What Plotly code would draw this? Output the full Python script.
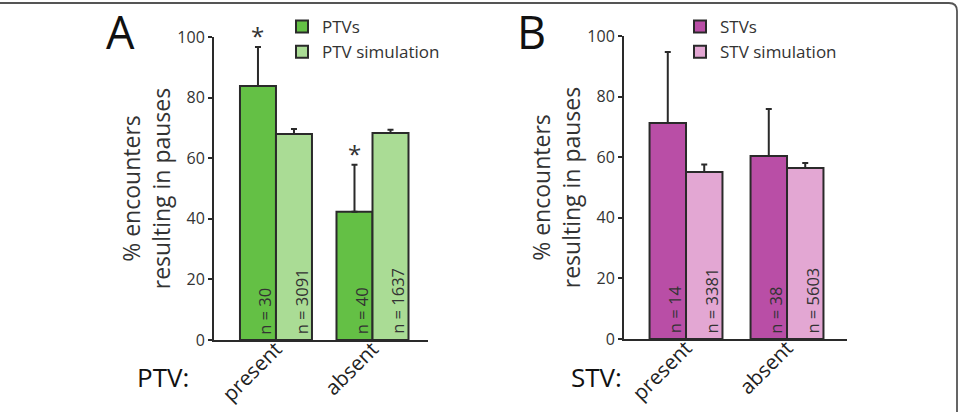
import plotly.graph_objects as go

W, H = 961, 412

categories = ["present", "absent"]

# Panel A
ptv_vals = [83.8, 42.3]
ptv_err = [12.9, 15.5]
ptv_n = [30, 40]
ptv_sim_vals = [68.0, 68.3]
ptv_sim_err = [1.6, 1.1]
ptv_sim_n = [3091, 1637]
ptv_sig = [True, True]

# Panel B
stv_vals = [71.3, 60.4]
stv_err = [23.4, 15.5]
stv_n = [14, 38]
stv_sim_vals = [55.1, 56.4]
stv_sim_err = [2.5, 1.7]
stv_sim_n = [3381, 5603]

xpos = [0, 1]

FONT = "Open Sans"
TXT = "#333333"
EDGE = "#2a2a2a"

def px_x(p):
    return p / W

def px_y(p):
    return 1 - p / H

fig = go.Figure()

def add_pair(vals, err, sim_vals, sim_err, names, colors, bw, xa, ya, leg):
    fig.add_trace(go.Bar(
        x=xpos, y=vals, width=bw, offset=-bw, name=names[0],
        marker=dict(color=colors[0], line=dict(color=EDGE, width=2)),
        error_y=dict(type="data", array=err, arrayminus=[0] * len(err), symmetric=False,
                     color=EDGE, thickness=2, width=3),
        xaxis=xa, yaxis=ya, legend=leg))
    fig.add_trace(go.Bar(
        x=xpos, y=sim_vals, width=bw, offset=0, name=names[1],
        marker=dict(color=colors[1], line=dict(color=EDGE, width=2)),
        error_y=dict(type="data", array=sim_err, arrayminus=[0] * len(sim_err), symmetric=False,
                     color=EDGE, thickness=2, width=3),
        xaxis=xa, yaxis=ya, legend=leg))

bwA = 0.373
bwB = 0.361
add_pair(ptv_vals, ptv_err, ptv_sim_vals, ptv_sim_err, ["PTVs", "PTV simulation"],
         ["#64c045", "#aadc95"], bwA, "x", "y", "legend")
add_pair(stv_vals, stv_err, stv_sim_vals, stv_sim_err, ["STVs", "STV simulation"],
         ["#b94ea6", "#e3a7d3"], bwB, "x2", "y2", "legend2")

annotations = []

def n_labels(ns, sim_ns, bw, xref, yref):
    for i, x in enumerate(xpos):
        for n, cx in ((ns[i], x - bw / 2), (sim_ns[i], x + bw / 2)):
            annotations.append(dict(
                x=cx, y=1.2, xref=xref, yref=yref, text=f"n = {n}", textangle=-90,
                showarrow=False, xanchor="center", yanchor="bottom", xshift=7,
                font=dict(family=FONT, size=16.5, color=TXT)))

n_labels(ptv_n, ptv_sim_n, bwA, "x", "y")
n_labels(stv_n, stv_sim_n, bwB, "x2", "y2")

for i, x in enumerate(xpos):
    if ptv_sig[i]:
        annotations.append(dict(
            x=x - bwA / 2, y=ptv_vals[i] + ptv_err[i], xref="x", yref="y", text="*",
            showarrow=False, xanchor="center", yanchor="bottom", yshift=-7,
            font=dict(family=FONT, size=24, color=TXT)))

annotations += [
    dict(x=px_x(120), y=px_y(32), xref="paper", yref="paper", text="A", showarrow=False,
         xanchor="center", yanchor="middle", font=dict(family=FONT, size=45, color="#111")),
    dict(x=px_x(531), y=px_y(32), xref="paper", yref="paper", text="B", showarrow=False,
         xanchor="center", yanchor="middle", font=dict(family=FONT, size=45, color="#111")),
    dict(x=px_x(163), y=px_y(377), xref="paper", yref="paper", text="PTV:", showarrow=False,
         xanchor="center", yanchor="middle", font=dict(family=FONT, size=26, color="#111")),
    dict(x=px_x(596), y=px_y(377), xref="paper", yref="paper", text="STV:", showarrow=False,
         xanchor="center", yanchor="middle", font=dict(family=FONT, size=26, color="#111")),
]

ytitle = "% encounters<br>resulting in pauses"

def yaxis_cfg(dom, anchor):
    return dict(domain=dom, range=[0, 100], anchor=anchor, tickvals=[0, 20, 40, 60, 80, 100],
                ticks="outside", ticklen=4, tickwidth=1.5, tickcolor=EDGE, automargin=False,
                showline=True, linecolor=EDGE, linewidth=2, showgrid=False, zeroline=False,
                tickfont=dict(family=FONT, size=16, color=TXT),
                title=dict(text=ytitle, standoff=0, font=dict(family=FONT, size=23, color=TXT)))

def xaxis_cfg(dom, rng, anchor):
    return dict(domain=dom, range=rng, anchor=anchor, tickvals=xpos, ticktext=categories,
                tickangle=-45, ticks="", showline=True, linecolor=EDGE, linewidth=2,
                showgrid=False, zeroline=False, automargin=False, ticklabelstandoff=-13,
                tickfont=dict(family=FONT, size=20.5, color="#222222"))

fig.update_layout(
    width=W, height=H, autosize=False,
    margin=dict(l=0, r=0, t=0, b=0, autoexpand=False),
    paper_bgcolor="white", plot_bgcolor="white",
    barmode="overlay",
    xaxis=xaxis_cfg([px_x(214), px_x(428)], [-0.642, 1.575], "y"),
    yaxis=yaxis_cfg([px_y(340), px_y(37)], "x"),
    xaxis2=xaxis_cfg([px_x(624), px_x(847)], [-0.614, 1.594], "y2"),
    yaxis2=yaxis_cfg([px_y(339), px_y(36)], "x2"),
    legend=dict(x=px_x(282), y=px_y(9), xanchor="left", yanchor="top",
                font=dict(family=FONT, size=17, color=TXT), bgcolor="rgba(0,0,0,0)",
                tracegroupgap=0),
    legend2=dict(x=px_x(680), y=px_y(9), xanchor="left", yanchor="top",
                 font=dict(family=FONT, size=17, color=TXT), bgcolor="rgba(0,0,0,0)",
                 tracegroupgap=0),
    showlegend=True,
    annotations=annotations,
    shapes=[dict(type="path", xref="paper", yref="paper",
                 path=f"M 0,{px_y(3)} L {px_x(949)},{px_y(3)} Q {px_x(957)},{px_y(3)} {px_x(957)},{px_y(11)} L {px_x(957)},0",
                 line=dict(color="#555555", width=1.8))],
)

fig.write_html("out.html")
